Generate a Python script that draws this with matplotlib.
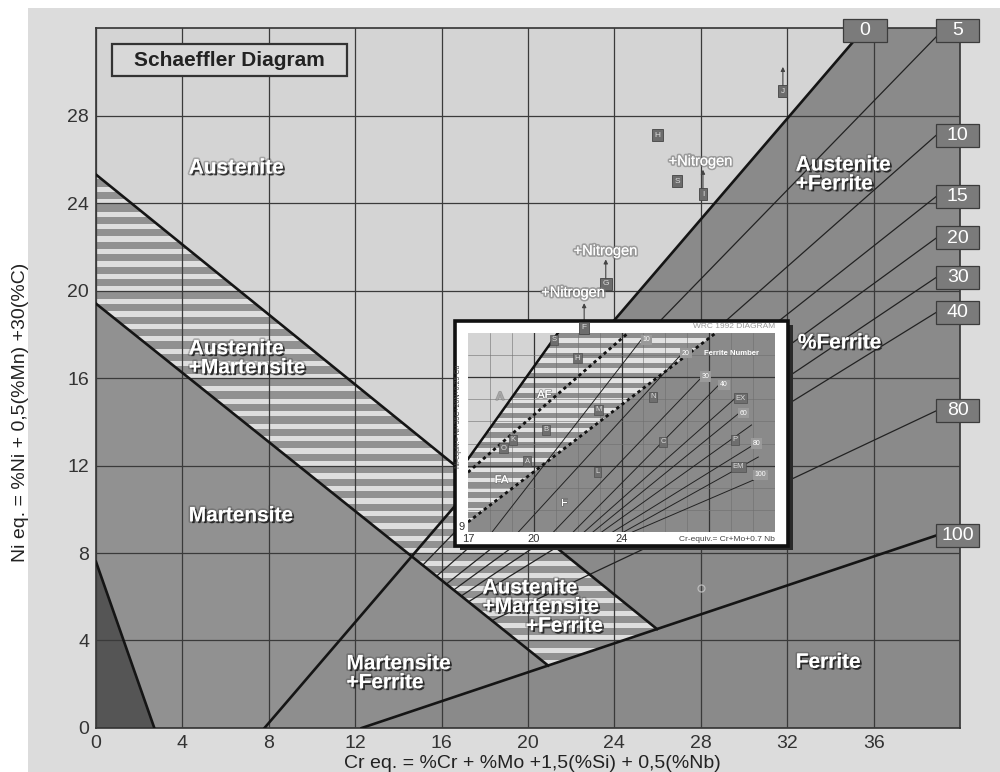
import numpy as np
import matplotlib.pyplot as plt
import matplotlib.patheffects as pe
from matplotlib.patches import Polygon, Rectangle

plt.rcParams['font.family'] = ['Liberation Sans', 'DejaVu Sans']

###---------------------------------------------------------------------###
###                   SCHAEFFLER DATA (Cr eq., Ni eq.)                  ###
###---------------------------------------------------------------------###

austenite_line = [(0.0, 25.3), (26.0, 4.5)]     # A / A+M limit
martensite_line = [(0.0, 19.4), (21.0, 2.8)]    # upper martensite limit
corner_line = [(0.0, 7.6), (2.7, 0.0)]
ferrite0_line = [(7.8, 0.0), (35.6, 32.0)]
ferrite100_line = [(12.3, 0.0), (38.9, 8.8)]

# iso-ferrite lines, all fanning out of the 0% foot
ferrite_origin = (7.8, 0.0)
ferrite_end_cr = 38.9
ferrite_end_ni = [31.6, 27.1, 24.3, 22.4, 20.6, 19.0, 14.5]

box_labels = ['0', '5', '10', '15', '20', '30', '40', '80', '100']
box_cr = [35.6, 39.9, 39.9, 39.9, 39.9, 39.9, 39.9, 39.9, 39.9]
box_ni = [31.9, 31.9, 27.1, 24.3, 22.4, 20.6, 19.0, 14.5, 8.8]

region_text = ['Austenite', 'Austenite\n+Martensite', 'Martensite',
               'Martensite\n+Ferrite', 'Austenite\n+Ferrite', '%Ferrite', 'Ferrite']
region_cr = [4.3, 4.3, 4.3, 11.6, 32.4, 32.5, 32.4]
region_ni = [25.6, 16.9, 9.7, 2.5, 25.3, 17.6, 3.0]

# alloy markers
marker_letters = ['H', 'S', 'I', 'J', 'G']
marker_cr = [26.0, 26.9, 28.1, 31.8, 23.6]
marker_ni = [27.1, 25.0, 24.4, 29.1, 20.3]
arrow_cr = [28.1, 31.8, 23.6, 22.6]
arrow_ni = [24.4, 29.1, 20.3, 18.3]
nitrogen_cr = [28.0, 23.6, 22.1]
nitrogen_ni = [25.9, 21.8, 19.9]

###---------------------------------------------------------------------###
###                       WRC 1992 INSET DATA                           ###
###---------------------------------------------------------------------###

wrc_a_line = [(17.0, 12.3), (21.1, 18.0)]
wrc_dot1 = [(17.0, 11.7), (24.3, 18.0)]
wrc_dot2 = [(17.0, 9.45), (28.3, 18.0)]
wrc_fn_start = [18.1, 19.3, 20.9, 21.8, 22.3, 22.7, 23.1, 23.6, 24.1, 24.5]
wrc_fn_end_x = [24.97, 26.7, 27.69, 28.44, 29.2, 29.43, 29.93, 30.02, 30.24, 30.02]
wrc_fn_end_y = [17.78, 17.0, 16.03, 15.65, 15.06, 14.43, 13.84, 12.94, 12.39, 11.35]

wrc_fn_labels = ['10', '20', '30', '40', '60', '80', '100']
wrc_fn_x = [25.14, 26.94, 27.84, 28.67, 29.57, 30.17, 30.32]
wrc_fn_y = [17.69, 17.09, 16.03, 15.65, 14.37, 13.0, 11.58]

wrc_box_letters = ['S', 'H', 'M', 'N', 'B', 'K', 'O', 'A', 'L', 'C', 'P', 'EX', 'EM']
wrc_box_x = [20.92, 21.99, 22.96, 25.44, 20.56, 19.06, 18.61, 19.70, 22.89, 25.89, 29.19, 29.42, 29.34]
wrc_box_y = [17.69, 16.86, 14.52, 15.12, 13.62, 13.16, 12.79, 12.21, 11.73, 13.09, 13.16, 15.05, 11.95]

wrc_zone_text = ['A', 'AF', 'FA', 'F']
wrc_zone_x = [18.46, 20.48, 18.53, 21.38]
wrc_zone_y = [15.12, 15.2, 11.35, 10.30]


def line_at(line, x):
    (x1, y1), (x2, y2) = line
    return y1 + (y2 - y1) * (x - x1) / (x2 - x1)


def cross(l1, l2):
    (x1, y1), (x2, y2) = l1
    (x3, y3), (x4, y4) = l2
    m1 = (y2 - y1) / (x2 - x1)
    m2 = (y4 - y3) / (x4 - x3)
    x = (y3 - y1 + m1 * x1 - m2 * x3) / (m1 - m2)
    return (x, y1 + m1 * (x - x1))


def add_stripes(ax, pts, period, frac, color, ymax, z):
    clip = Polygon(pts, closed=True, fc='none', ec='none')
    ax.add_patch(clip)
    for y0 in np.arange(0, ymax, period):
        r = Rectangle((0, y0), 100, period * frac, fc=color, ec='none', zorder=z)
        ax.add_patch(r)
        r.set_clip_path(clip)


shadow = [pe.withStroke(linewidth=2.5, foreground='#3a3a3a', alpha=0.3),
          pe.SimplePatchShadow(offset=(1.3, -1.3), shadow_rgbFace='#151515', alpha=0.8),
          pe.Normal()]

fig = plt.figure(figsize=(10, 7.72), dpi=100)
fig.add_artist(Rectangle((0.028, 0), 0.972, 1 - 8 / 772, transform=fig.transFigure,
                         fc='#dcdcdc', ec='none', zorder=-5))

ax = fig.add_axes([0.096, 0.0570, 0.864, 0.9067])
ax.set_xlim(0, 40)
ax.set_ylim(0, 32)
ax.patch.set_visible(False)

# corner points of the phase fields
am0 = cross(austenite_line, ferrite0_line)
mm0 = cross(martensite_line, ferrite0_line)
a100 = cross(austenite_line, ferrite100_line)
m100 = cross(martensite_line, ferrite100_line)
f100_40 = (40, line_at(ferrite100_line, 40))

light = '#d4d4d4'
mid = '#919191'
dark = '#8a8a8a'
regions = [
    ([(0, 32), ferrite0_line[1], am0, austenite_line[0]], light),
    ([austenite_line[0], am0, mm0, martensite_line[0]], mid),
    ([martensite_line[0], mm0, ferrite0_line[0], (0, 0)], mid),
    ([ferrite0_line[0], mm0, m100, ferrite100_line[0]], '#8e8e8e'),
    ([mm0, am0, a100, m100], mid),
    ([am0, ferrite0_line[1], (40, 32), f100_40, a100], dark),
    ([ferrite100_line[0], f100_40, (40, 0)], dark),
    ([(0, 0), corner_line[0], corner_line[1]], '#555555'),
]
for pts, c in regions:
    ax.add_patch(Polygon(pts, closed=True, fc=c, ec='none', zorder=1))

add_stripes(ax, regions[1][0], 0.57, 0.42, '#dedede', 32, 1.2)
add_stripes(ax, regions[4][0], 0.57, 0.42, '#dedede', 32, 1.2)

# grid
ax.set_xticks(np.arange(0, 37, 4))
ax.set_yticks(np.arange(0, 29, 4))
ax.set_axisbelow(False)
ax.grid(True, color='#3a3a3a', lw=0.9)
ax.tick_params(length=0, labelsize=14, labelcolor='#333333', pad=5)
for s in ax.spines.values():
    s.set_color('#333333')
    s.set_linewidth(1.2)

# iso-ferrite lines
for ni in ferrite_end_ni:
    ln = [ferrite_origin, (ferrite_end_cr, ni)]
    st = cross(martensite_line, ln)
    ax.plot([st[0], ferrite_end_cr], [st[1], ni], color='#222222', lw=0.9, zorder=3)

# phase boundaries
bw = 1.9
ax.plot([austenite_line[0][0], a100[0]], [austenite_line[0][1], a100[1]], color='#151515', lw=bw, zorder=4)
ax.plot([martensite_line[0][0], m100[0]], [martensite_line[0][1], m100[1]], color='#151515', lw=bw, zorder=4)
ax.plot(*zip(*ferrite0_line), color='#151515', lw=bw, zorder=4)
ax.plot(*zip(*ferrite100_line), color='#151515', lw=bw, zorder=4)
ax.plot(*zip(*corner_line), color='#151515', lw=bw, zorder=4)

# percentage boxes
for lab, cx, cy in zip(box_labels, box_cr, box_ni):
    ax.add_patch(Rectangle((cx - 1.0, cy - 0.52), 2.0, 1.05, fc='#7b7b7b', ec='#3c3c3c',
                           lw=0.9, zorder=6, clip_on=False))
    ax.text(cx, cy, lab, ha='center', va='center', fontsize=14, color='white',
            zorder=7, clip_on=False)

# title box
ax.add_patch(Rectangle((0.75, 29.8), 10.85, 1.45, fc='#d8d8d8', ec='#333333', lw=1.6, zorder=6))
ax.text(6.17, 30.5, 'Schaeffler Diagram', ha='center', va='center', fontsize=15,
        fontweight='bold', color='#222222', zorder=7)

# region names
for t, cx, cy in zip(region_text, region_cr, region_ni):
    ax.text(cx, cy, t, ha='left', va='center', fontsize=15, fontweight='bold', color='white',
            linespacing=1.0, zorder=8, path_effects=shadow)
ax.text(17.9, 6.4, 'Austenite', ha='left', va='center', fontsize=15, fontweight='bold',
        color='white', zorder=8, path_effects=shadow)
ax.text(17.9, 5.55, '+Martensite', ha='left', va='center', fontsize=15, fontweight='bold',
        color='white', zorder=8, path_effects=shadow)
ax.text(23.5, 4.65, '+Ferrite', ha='right', va='center', fontsize=15, fontweight='bold',
        color='white', zorder=8, path_effects=shadow)

# alloy markers and nitrogen arrows
for cx, cy in zip(arrow_cr, arrow_ni):
    ax.annotate('', xy=(cx, cy + 1.25), xytext=(cx, cy), zorder=5,
                arrowprops=dict(arrowstyle='-|>', color='#444444', lw=0.8, mutation_scale=6))
for lab, cx, cy in zip(marker_letters, marker_cr, marker_ni):
    ax.text(cx, cy, lab, ha='center', va='center', fontsize=6, color='#dddddd', zorder=6,
            bbox=dict(boxstyle='square,pad=0.3', fc='#6c6c6c', ec='#444444', lw=0.6))
for cx, cy in zip(nitrogen_cr, nitrogen_ni):
    ax.text(cx, cy, '+Nitrogen', ha='center', va='center', fontsize=10.5, color='white',
            zorder=8, path_effects=[pe.withStroke(linewidth=2.5, foreground='#777777', alpha=0.6),
                                    pe.Normal()])
ax.plot([28.0], [6.4], 'o', ms=5, mfc='none', mec='#bbbbbb', mew=0.9, zorder=5)

fig.text(0.021, 1 - 412 / 772, 'Ni eq. = %Ni + 0,5(%Mn) +30(%C)', rotation=90,
         ha='center', va='center', fontsize=14, color='#222222')
fig.text(0.532, 1 - 763 / 772, 'Cr eq. = %Cr + %Mo +1,5(%Si) + 0,5(%Nb)',
         ha='center', va='center', fontsize=14, color='#222222')

###---------------------------------------------------------------------###
###                           WRC 1992 INSET                            ###
###---------------------------------------------------------------------###

fig.add_artist(Rectangle((0.460, 0.2870), 0.333, 0.2915, transform=fig.transFigure,
                         fc='#2a2a2a', ec='none', zorder=1))
fig.add_artist(Rectangle((0.455, 0.2927), 0.333, 0.2915, transform=fig.transFigure,
                         fc='white', ec='#111111', lw=2.6, zorder=1.1))

iax = fig.add_axes([0.468, 0.3109, 0.307, 0.2578])
iax.set_zorder(2)
iax.set_xlim(17, 31)
iax.set_ylim(9, 18)
for s in iax.spines.values():
    s.set_visible(False)

a_zone = [(17, 18), wrc_a_line[1], wrc_a_line[0]]
af_zone = [wrc_a_line[0], wrc_a_line[1], wrc_dot2[1], wrc_dot2[0]]
f_zone = [(17, 9), wrc_dot2[0], wrc_dot2[1], (31, 18), (31, 9)]
iax.add_patch(Polygon(a_zone, closed=True, fc='#d4d4d4', ec='none', zorder=1))
iax.add_patch(Polygon(af_zone, closed=True, fc='#8e8e8e', ec='none', zorder=1))
iax.add_patch(Polygon(f_zone, closed=True, fc='#8a8a8a', ec='none', zorder=1))
add_stripes(iax, af_zone, 0.45, 0.45, '#e2e2e2', 18, 1.2)

for gx in range(18, 31):
    major = gx in (20, 24, 28)
    iax.axvline(gx, color='#333333' if major else '#6f6f6f', lw=0.9 if major else 0.4, zorder=1.5)
for gy in range(10, 18):
    major = gy in (12, 16)
    iax.axhline(gy, color='#333333' if major else '#6f6f6f', lw=0.9 if major else 0.4, zorder=1.5)

for sx, ex, ey in zip(wrc_fn_start, wrc_fn_end_x, wrc_fn_end_y):
    iax.plot([sx, ex], [9, ey], color='#222222', lw=0.7, zorder=2)
iax.plot(*zip(*wrc_a_line), color='#111111', lw=1.8, zorder=3)
iax.plot(*zip(*wrc_dot1), color='#111111', lw=2.0, ls=(0, (1.2, 1.2)), zorder=3)
iax.plot(*zip(*wrc_dot2), color='#111111', lw=2.0, ls=(0, (1.2, 1.2)), zorder=3)

for lab, cx, cy in zip(wrc_fn_labels, wrc_fn_x, wrc_fn_y):
    iax.text(cx, cy, lab, ha='center', va='center', fontsize=5, color='white', zorder=5,
             bbox=dict(boxstyle='square,pad=0.25', fc='#9a9a9a', ec='none'))
iax.text(27.75, 17.09, 'Ferrite Number', ha='left', va='center', fontsize=5.5,
         fontweight='bold', color='white', zorder=5)
for lab, cx, cy in zip(wrc_box_letters, wrc_box_x, wrc_box_y):
    iax.text(cx, cy, lab, ha='center', va='center', fontsize=5.5, color='#dddddd', zorder=5,
             bbox=dict(boxstyle='square,pad=0.2', fc='#6e6e6e', ec='#444444', lw=0.4))
for lab, cx, cy in zip(wrc_zone_text, wrc_zone_x, wrc_zone_y):
    iax.text(cx, cy, lab, ha='center', va='center', fontsize=8,
             color='#a8a8a8' if lab == 'A' else 'white', zorder=5,
             path_effects=[pe.withStroke(linewidth=1.5, foreground='#666666', alpha=0.5), pe.Normal()])

iax.set_xticks([17, 20, 24])
iax.set_yticks([])
iax.tick_params(length=0, labelsize=8, labelcolor='#333333', pad=1.5)
iax.text(-0.012, 0.0, '9', transform=iax.transAxes, ha='right', va='bottom',
         fontsize=8, color='#333333')
iax.text(1.0, 1.015, 'WRC 1992 DIAGRAM', transform=iax.transAxes, ha='right', va='bottom',
         fontsize=6, color='#9a9a9a')
iax.text(1.0, -0.02, 'Cr-equiv.= Cr+Mo+0.7 Nb', transform=iax.transAxes, ha='right', va='top',
         fontsize=6, color='#444444')
iax.text(-0.03, 0.58, 'Ni-equiv.= Ni+35C+20N+0.25 Cu', transform=iax.transAxes, rotation=90,
         ha='center', va='center', fontsize=5, color='#444444')

# marker F sits on the inset frame
iax.text(22.6, 18.3, 'F', transform=ax.transData, ha='center', va='center', fontsize=6,
         color='#dddddd', zorder=10, clip_on=False,
         bbox=dict(boxstyle='square,pad=0.3', fc='#6c6c6c', ec='#444444', lw=0.6))

fig.savefig('out.png', dpi=100)
